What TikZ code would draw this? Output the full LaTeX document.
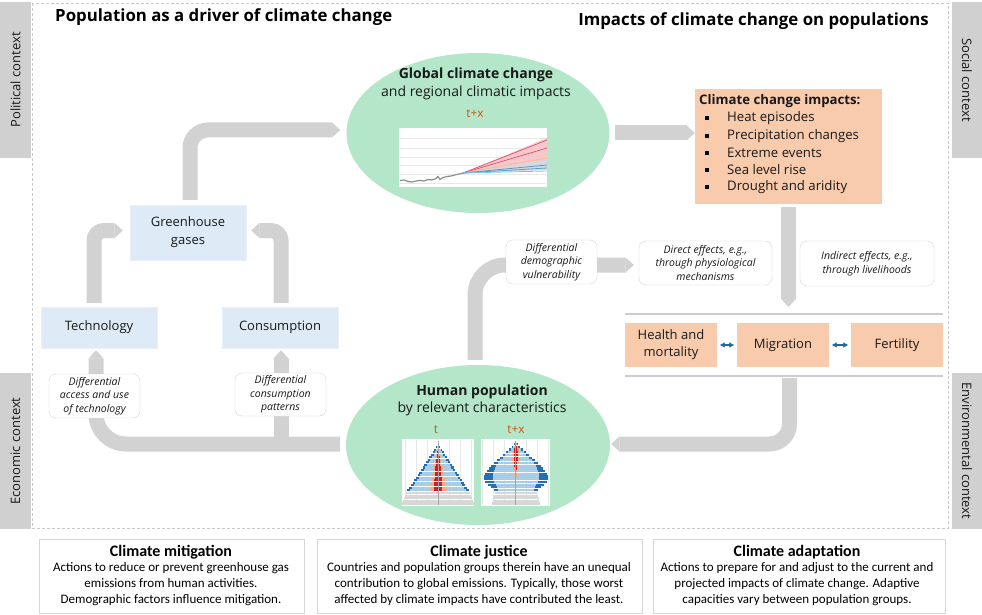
\documentclass[tikz,border=0pt]{standalone}
\usepackage{fontspec}
\setmainfont{Open Sans}
\newfontfamily\narrowfont{Carlito}
\usetikzlibrary{arrows.meta,shapes.geometric,calc,backgrounds}
\definecolor{arrgray}{RGB}{210,210,210}
\definecolor{ctxgray}{RGB}{208,208,208}
\definecolor{mint}{RGB}{180,231,201}
\definecolor{salmon}{RGB}{248,203,173}
\definecolor{ltblue}{RGB}{222,235,247}
\definecolor{tcol}{RGB}{197,90,17}
\definecolor{dblue}{RGB}{31,105,150}
\definecolor{txt}{RGB}{25,25,25}
\definecolor{lblgray}{RGB}{212,212,212}
\definecolor{sepgray}{RGB}{205,205,205}
\definecolor{infogray}{RGB}{215,215,215}
\definecolor{framec}{RGB}{200,200,200}
\definecolor{pyrdark}{RGB}{35,110,180}
\definecolor{pyrlight}{RGB}{168,205,232}
\definecolor{pyrsal}{RGB}{245,172,135}
\definecolor{pyrred}{RGB}{205,30,40}
\definecolor{pyrgray}{RGB}{215,215,215}
\definecolor{gridc}{RGB}{232,232,232}
\definecolor{histgray}{RGB}{140,140,140}
\definecolor{redfan}{RGB}{246,200,206}
\definecolor{redline}{RGB}{222,80,105}
\definecolor{orline}{RGB}{245,190,140}
\definecolor{blline}{RGB}{90,160,210}
\definecolor{lbline}{RGB}{120,200,230}
\definecolor{grband}{RGB}{212,216,226}
\begin{document}
\begin{tikzpicture}[x=1pt,y=-1pt,
  ctx/.style={fill=ctxgray, inner sep=0pt},
  ctxtext/.style={font=\fontsize{13}{15}\selectfont, text=txt},
  titletext/.style={font=\bfseries\fontsize{16.8}{19}\selectfont, text=black},
  bluebox/.style={fill=ltblue, draw=ltblue!70!white, align=center, font=\fontsize{13}{18}\selectfont, text=txt, inner sep=0pt},
  salbox/.style={fill=salmon, align=center, font=\fontsize{13}{17}\selectfont, text=txt, inner sep=0pt},
  lbl/.style={draw=lblgray, fill=white, rounded corners=7pt, align=center, font=\fontsize{10.5}{13.5}\selectfont\itshape, text=txt, inner sep=0pt},
  arr/.style={draw=arrgray, line width=15pt, -{Triangle[width=0pt 1, length=0pt 0.55, line width=0pt]}},
  cloud/.style={ellipse, fill=mint, inner sep=0pt},
  cloudhead/.style={font=\bfseries\fontsize{14}{16}\selectfont, text=txt},
  cloudsub/.style={font=\fontsize{14}{16}\selectfont, text=txt},
  ttext/.style={font=\fontsize{12}{14}\selectfont, text=tcol},
  impitem/.style={anchor=west, font=\fontsize{13.2}{15}\selectfont, text=txt, inner sep=0pt},
  dblarr/.style={draw=dblue, line width=1.4pt, {Latex[length=5pt,width=6pt]}-{Latex[length=5pt,width=6pt]}, shorten >=2.5pt, shorten <=2.5pt},
  sepline/.style={draw=sepgray, line width=1.5pt},
  infobox/.style={draw=infogray, fill=white, line width=0.8pt, inner sep=0pt},
  infohead/.style={font=\narrowfont\bfseries\fontsize{16}{18}\selectfont, text=black},
  infobody/.style={font=\narrowfont\fontsize{13}{16}\selectfont, align=center, text=black}
]
\useasboundingbox (0,0) rectangle (982,615);

% dashed frame
\draw[framec, line width=0.8pt, dash pattern=on 3pt off 2pt] (32,3) rectangle (948,528);

% context boxes
\node[ctx, minimum width=31pt, minimum height=156pt] (ctxP) at (15.5,80) {};
\node[ctxtext, rotate=90] at (ctxP.center) {Political context};
\node[ctx, minimum width=31pt, minimum height=156pt] (ctxE) at (15.5,451) {};
\node[ctxtext, rotate=90] at (ctxE.center) {Economic context};
\node[ctx, minimum width=30pt, minimum height=156pt] (ctxS) at (967,80) {};
\node[ctxtext, rotate=-90] at (ctxS.center) {Social context};
\node[ctx, minimum width=30pt, minimum height=156pt] (ctxV) at (967,451) {};
\node[ctxtext, rotate=-90] at (ctxV.center) {Environmental context};

% titles
\node[titletext, anchor=west, inner sep=0pt] (t1) at (55,17) {Population as a driver of climate change};
\node[titletext, anchor=east, inner sep=0pt] (t2) at (929,21) {Impacts of climate change on populations};

% main nodes
\node[cloud, minimum width=263pt, minimum height=160pt] (gcc) at (478,133) {};
\node[cloud, minimum width=264pt, minimum height=160pt] (hp) at (478,445) {};
\node[fill=salmon, minimum width=187pt, minimum height=115pt, inner sep=0pt] (imp) at (788.5,146.5) {};
\node[bluebox, minimum width=116pt, minimum height=55pt] (ghg) at (188,232.5) {Greenhouse\\gases};
\node[bluebox, minimum width=116pt, minimum height=41pt] (tech) at (99,327.5) {Technology};
\node[bluebox, minimum width=116pt, minimum height=41pt] (cons) at (280,327.5) {Consumption};
\node[salbox, minimum width=92pt, minimum height=44pt] (hm) at (671,345) {Health and\\mortality};
\node[salbox, minimum width=92pt, minimum height=44pt] (mig) at (783,345) {Migration};
\node[salbox, minimum width=92pt, minimum height=44pt] (fert) at (897,345) {Fertility};

% labels on connectors
\node[lbl, minimum width=91pt, minimum height=44pt] (lblTech) at (94.5,396) {Differential\\access and use\\of technology};
\node[lbl, minimum width=91pt, minimum height=43pt] (lblCons) at (280.5,394.5) {Differential\\consumption\\patterns};
\node[lbl, minimum width=91pt, minimum height=44pt] (lblVul) at (551.5,262) {Differential\\demographic\\vulnerability};
\node[lbl, minimum width=133pt, minimum height=44pt] (lblDir) at (705.5,263) {Direct effects, e.g.,\\through physiological\\mechanisms};
\node[lbl, minimum width=134pt, minimum height=45pt] (lblInd) at (867,263.5) {Indirect effects, e.g.,\\through livelihoods};

% separator lines
\coordinate (rowtopL) at (625,314);
\coordinate (rowtopR) at (943,314);
\coordinate (rowbotL) at (625,376);
\coordinate (rowbotR) at (943,376);
\draw[sepline] (rowtopL) -- (rowtopR);
\draw[sepline] (rowbotL) -- (rowbotR);

% connectors (behind)
\begin{pgfonlayer}{background}
\fill[white] (0,0) rectangle (982,615);
\draw[arr, rounded corners=18pt] ([xshift=2pt,yshift=5pt]ghg.north) |- ($(gcc.west)+(-6,-3)$);
\draw[arr, rounded corners=10pt] ([xshift=-5pt,yshift=4pt]tech.north) |- ($(ghg.west)+(-7,-2)$);
\draw[arr, rounded corners=10pt] ([xshift=1pt,yshift=4pt]cons.north) |- ($(ghg.east)+(5,-2)$);
\draw[arr, rounded corners=30pt] ($(hp.west)+(-6,-1)$) -| ($(tech.south)+(-3,2)$);
\draw[arr] ($(cons.south)+(1,96)$) -- ($(cons.south)+(1,2)$);
\draw[arr, rounded corners=30pt] ($(hp.north)+(-3,-5)$) |- ($(lblDir.west)+(-5,2)$);
\draw[arr] ($(gcc.east)+(5,0)$) -- (gcc.east -| imp.west);
\draw[arr] ($(imp.south)+(0,3)$) -- ($(imp.south |- rowtopL)+(0,-7)$);
\draw[arr, rounded corners=20pt] ($(imp.south |- rowbotL)+(1,2)$) |- ($(hp.east)+(1,-1)$);
\end{pgfonlayer}
\draw[dblarr] (hm.east) -- (mig.west);
\draw[dblarr] (mig.east) -- (fert.west);

% global climate change texts
\node[cloudhead] (gcch) at (476,75) {Global climate change};
\node[cloudsub] (gccs) at (476,93) {and regional climatic impacts};
\node[ttext] (gcct) at (475,114) {t+x};
\node[fill=white, minimum width=148pt, minimum height=59pt, inner sep=0pt] (chart) at (473,157.5) {};
\foreach \yy in {138,148,157,165,174,183} \draw[gridc, line width=0.6pt] (400,\yy) -- (546,\yy);
\fill[redfan] (463,173) -- (547,138) -- (547,163) -- cycle;
\fill[grband] (463,173) -- (547,160) -- (547,170) -- cycle;
\draw[redline, line width=0.7pt] (463,173) -- (547,140);
\draw[redline, line width=0.7pt] (463,173) -- (547,148);
\draw[orline, line width=0.8pt] (463,173) -- (547,158);
\draw[blline!70!gray, line width=0.8pt] (463,173) -- (547,165);
\draw[blline, line width=0.8pt] (463,173) -- (547,168);
\draw[lbline, line width=0.8pt] (463,173) -- (547,171);
\draw[histgray, line width=1.2pt] plot coordinates {(400,180.5) (404,180) (408,181.5) (412,182) (416,181) (420,180.5) (424,181) (428,179.5) (432,180) (436,178.5) (438,176.5) (440,179.5) (443,177.5) (447,176.5) (451,176) (455,175) (459,174) (463,173)};

% human population texts
\node[cloudhead] (hph) at (482,392) {Human population};
\node[cloudsub] (hps) at (482,409) {by relevant characteristics};
\node[ttext] (hpt1) at (436,430) {t};
\node[ttext] (hpt2) at (516,430) {t+x};
\node[fill=white, minimum width=72pt, minimum height=67pt, inner sep=0pt] (pyrL) at (438,472.5) {};
\node[fill=white, minimum width=69pt, minimum height=67pt, inner sep=0pt] (pyrR) at (515.5,472.5) {};
\foreach \dx in {-33,-22,-11,11,22,33} \draw[gridc, line width=0.6pt] ({438+\dx},440) -- ({438+\dx},505);
\foreach \dx in {-33,-22,-11,11,22,33} \draw[gridc, line width=0.6pt] ({515.5+\dx},440) -- ({515.5+\dx},505);
% left pyramid
\foreach \w/\d/\s/\r [count=\i from 0] in {2/1.2/0/0, 4/1.5/1/0.5, 5.5/2/1.8/0.8, 7/2.5/2.3/1.2, 9/2.5/2.8/1.5, 10.5/2.5/3.2/1.8, 12/2.5/3.6/2, 14/2.5/4/2.3, 15.5/2.5/4.5/2.6, 17/2.5/5/2.9, 19/2.5/5.5/3.1, 20.5/2.5/6/3.3, 22/2.5/6.5/3.5, 24/2.5/7/3.7, 25.5/2.5/7.5/3.9, 27/3/8/4, 29/3/8.5/4.2, 31/3/9/4.3} {
  \fill[pyrdark] ({438-\w},{446+\i*2.55}) rectangle ({438+\w},{446+\i*2.55+2.1});
  \fill[pyrlight] ({438-\w+\d},{446+\i*2.55}) rectangle ({438+\w-\d},{446+\i*2.55+2.1});
  \fill[pyrsal] ({438-\s},{446+\i*2.55}) rectangle ({438+\s},{446+\i*2.55+2.1});
  \fill[pyrred] ({438-\r},{446+\i*2.55}) rectangle ({438+\r},{446+\i*2.55+2.1});
}
\foreach \w [count=\i from 0] in {32,33,34,35,36} {
  \fill[pyrgray] ({438-\w},{492+\i*2.6}) rectangle ({438+\w},{492+\i*2.6+2.1});
}
% right pyramid
\foreach \w/\d/\s/\r [count=\i from 0] in {2/1.2/1/0.5, 4/1.5/2/1, 7/2/3/1.5, 10/2/3.5/2, 13/2.5/4/2, 16/3/4/2, 19/3/4/2, 22/4/3.5/1.5, 25/5/3/1.2, 27/6/2.5/1, 29/7/2/0.8, 31/8/1.5/0.6, 32/9/1/0.5, 32/9/0.5/0.3, 31/9/0/0, 28/8/0/0, 25/6/0/0, 22/4/0/0} {
  \fill[pyrdark] ({515.5-\w},{443+\i*2.7}) rectangle ({515.5+\w},{443+\i*2.7+2.2});
  \fill[pyrlight] ({515.5-\w+\d},{443+\i*2.7}) rectangle ({515.5+\w-\d},{443+\i*2.7+2.2});
  \fill[pyrsal] ({515.5-\s},{443+\i*2.7}) rectangle ({515.5+\s},{443+\i*2.7+2.2});
  \fill[pyrred] ({515.5-\r},{443+\i*2.7}) rectangle ({515.5+\r},{443+\i*2.7+2.2});
}
\foreach \w [count=\i from 0] in {21,22,23,23,24} {
  \fill[pyrgray] ({515.5-\w},{492+\i*2.6}) rectangle ({515.5+\w},{492+\i*2.6+2.1});
}
\draw[gray!70, line width=0.5pt] (438,441) -- (438,505);
\draw[gray!70, line width=0.5pt] (515.5,441) -- (515.5,505);

% climate change impacts box content
\node[anchor=west, font=\bfseries\fontsize{13.2}{15}\selectfont, text=txt, inner sep=0pt] (imph) at (699,101) {Climate change impacts:};
\foreach \yy/\tx in {118/Heat episodes, 136/Precipitation changes, 153/Extreme events, 170/Sea level rise, 187/Drought and aridity} {
  \fill[black] (705,{\yy-2}) rectangle (709,{\yy+2});
  \node[impitem] at (727,\yy) {\tx};
}

% bottom info boxes
\node[infobox, minimum width=265pt, minimum height=74pt] (mitig) at (171.5,576) {};
\node[infohead] (mitigh) at (171,552) {Climate mitigation};
\node[infobody] (mitigb) at (171,584) {Actions to reduce or prevent greenhouse gas\\emissions from human activities.\\Demographic factors influence mitigation.};
\node[infobox, minimum width=325pt, minimum height=74pt] (just) at (479.5,576) {};
\node[infohead] (justh) at (479,552) {Climate justice};
\node[infobody] (justb) at (479,584) {Countries and population groups therein have an unequal\\contribution to global emissions. Typically, those worst\\affected by climate impacts have contributed the least.};
\node[infobox, minimum width=292pt, minimum height=74pt] (adapt) at (799,576) {};
\node[infohead] (adapth) at (797,552) {Climate adaptation};
\node[infobody] (adaptb) at (797,584) {Actions to prepare for and adjust to the current and\\projected impacts of climate change. Adaptive\\capacities vary between population groups.};
\end{tikzpicture}
\end{document}
